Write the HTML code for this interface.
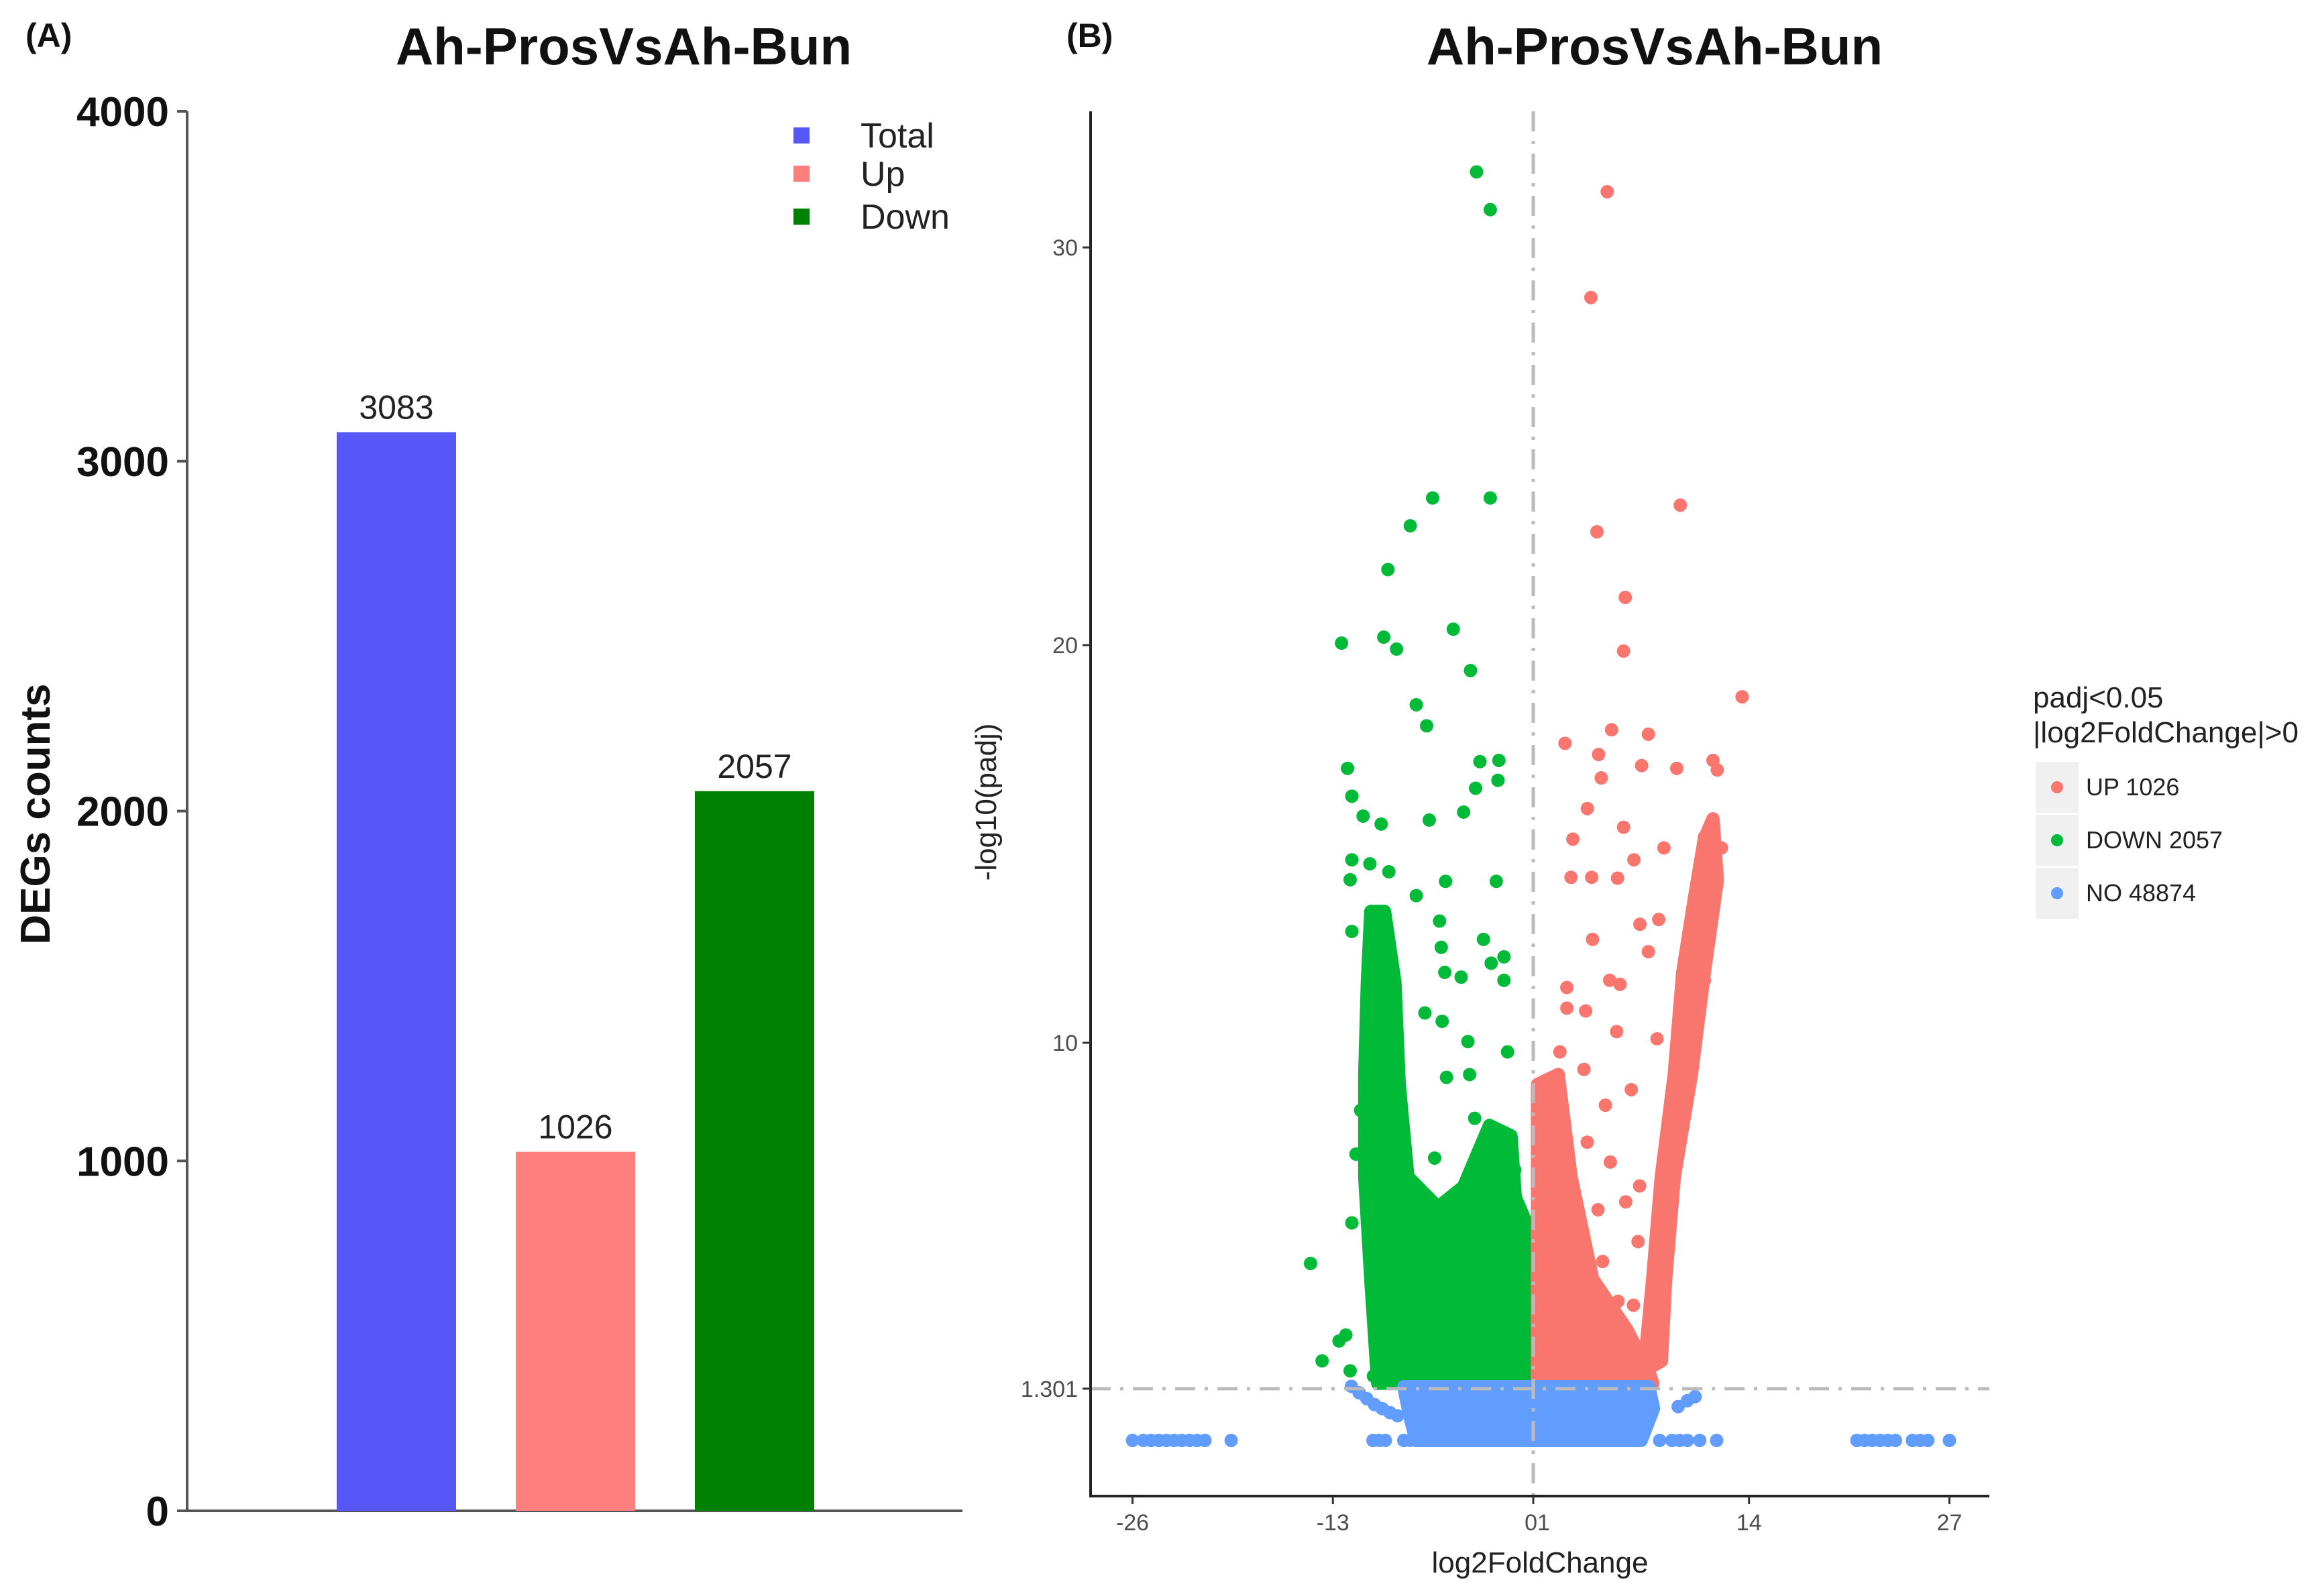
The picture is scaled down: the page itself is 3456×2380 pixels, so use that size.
<!DOCTYPE html>
<html><head><meta charset="utf-8">
<style>
html,body{margin:0;padding:0;background:#fff;}
svg{display:block;font-family:"Liberation Sans",sans-serif;}
</style></head>
<body>
<svg id="fig" width="3456" height="2380" viewBox="0 0 3456 2380" xmlns="http://www.w3.org/2000/svg">
  <rect width="3456" height="2380" fill="#fff"/>
  <g id="panelA">
    <text x="38" y="70" font-size="50" font-weight="bold" fill="#111">(A)</text>
    <text x="930" y="96" font-size="78" font-weight="bold" text-anchor="middle" fill="#111">Ah-ProsVsAh-Bun</text>
    <text transform="translate(74,1214) rotate(-90)" font-size="62" font-weight="bold" text-anchor="middle" fill="#111">DEGs counts</text>
    <g id="aAxes"></g>
    <g id="aBars"></g>
    <g id="aLegend"></g>
  </g>
  <g id="panelB">
    <text x="1590" y="70" font-size="50" font-weight="bold" fill="#111">(B)</text>
    <text x="2467" y="96" font-size="78" font-weight="bold" text-anchor="middle" fill="#111">Ah-ProsVsAh-Bun</text>
    <text transform="translate(1485,1196) rotate(-90)" font-size="44" text-anchor="middle" fill="#222">-log10(padj)</text>
    <text x="2296" y="2345" font-size="44" text-anchor="middle" fill="#222">log2FoldChange</text>
    <g id="bMarks"></g>
    <g id="bAxes"></g>
    <g id="bLegend"></g>
  </g>
</svg>
<script>
// ---------- Panel A data ----------
const barCategories = ["Total", "Up", "Down"];
const barValues = [3083, 1026, 2057];
const barColors = ["#5757F8", "#FF7F7F", "#008000"];
const aTickValues = [0, 1000, 2000, 3000, 4000];

// ---------- Panel B data ----------
const upPointsX = [4.8,3.74,4.13,9.54,5.97,5.86,13.55,2.06,5.08,7.47,4.24,7.03,9.31,11.66,11.94,4.41,3.51,5.86,2.57,6.53,8.48,11.1,12.21,2.45,3.79,5.47,6.92,8.14,3.85,7.47,4.96,5.63,11.1,2.18,3.4,2.18,5.41,8.03,1.73,3.29,6.36,4.68,3,4.5,5.5,6,5,3.5,6.8,2.8,4,5.3,4.2,6.5,2.2,3.2,7.6,6.9,10.8,11.3];
const upPointsY = [31.4,28.74,22.85,23.52,21.2,19.85,18.7,17.53,17.87,17.76,17.25,16.97,16.9,17.1,16.86,16.66,15.89,15.42,15.12,14.6,14.9,15.17,14.9,14.16,14.16,14.14,12.98,13.1,12.6,12.29,11.57,11.47,11.57,11.39,10.8,10.87,10.28,10.1,9.77,9.33,8.82,8.43,5,4.5,3.5,6,7,7.5,5,6,3,2.2,5.8,3.4,2.6,3.2,2.4,6.4,12.4,13.2];
const downPointsX = [-3.68,-2.79,-6.53,-2.79,-7.98,-9.43,-5.19,-12.44,-9.7,-8.87,-4.07,-7.59,-6.92,-3.46,-2.23,-12.05,-2.29,-3.74,-11.77,-11.04,-6.75,-4.52,-9.87,-11.77,-10.6,-9.37,-5.69,-2.4,-11.88,-7.59,-10.49,-6.08,-11.77,-3.23,-5.97,-2.73,-1.9,-5.74,-4.68,-1.9,-7.03,-5.91,-4.24,-1.67,-5.63,-4.13,-14.45,-11.77,-12.16,-12.6,-13.7,-11.88,-10.37,-7,-6,-8,-5,-3,-7.5,-11.5,-11.2,-6.4,-3.8,-1.2];
const downPointsY = [31.9,30.95,23.7,23.7,23.0,21.9,20.4,20.05,20.2,19.9,19.36,18.5,17.97,17.07,17.1,16.9,16.6,16.4,16.2,15.7,15.6,15.8,15.5,14.6,14.5,14.3,14.06,14.06,14.1,13.7,13.3,13.06,12.8,12.6,12.4,12.0,12.16,11.77,11.65,11.57,10.75,10.54,10.03,9.77,9.13,9.2,4.45,5.47,2.65,2.5,2.0,1.75,1.62,3,2.5,4,3.5,4.5,5.5,7.2,8.3,7.1,8.1,6.8];
const noPointsX = [-26,-25.3,-24.8,-24.3,-23.8,-23.3,-22.8,-22.3,-21.8,-21.3,-19.6,21,21.5,22,22.5,23,23.5,24.6,25.1,25.6,27,-10.4,-10,-9.6,-8.4,-8,8.2,9,9.5,10,10.8,11.9,-11.8,-11.3,-10.8,-10.3,-9.8,-9.3,-8.8,9.4,10,10.5];
const noPointsY = [0,0,0,0,0,0,0,0,0,0,0,0,0,0,0,0,0,0,0,0,0,0,0,0,0,0,0,0,0,0,0,0,1.36,1.2,1.05,0.9,0.8,0.7,0.62,0.85,1.0,1.1];
// dense-cloud outlines (data units)
const downCloudX = [-10.09,-10.54,-10.93,-10.93,-10.76,-10.54,-9.65,-8.98,-8.7,-8.14,-6.19,-4.52,-2.84,-1.45,-1.17,-0.33,-0.22];
const downCloudY = [1.44,4.06,6.63,9.2,11.52,13.3,13.3,11.52,8.95,6.63,5.86,6.38,7.92,7.66,6.12,5.35,1.44];
const upCloudX = [0.28,0.28,1.62,2.45,3.85,6.08,7.47,7.75];
const upCloudY = [1.44,8.95,9.2,6.63,4.06,2.78,1.75,1.44];
const upArmX = [7.19,7.75,8.31,9.15,9.7,10.43,11.1,11.66,11.94,11.1,10.26,9.15,8.59,8.31];
const upArmY = [1.75,4.06,6.63,9.2,11.77,13.57,15.12,15.63,14.09,11.77,9.2,6.63,4.06,2.0];
const noCloudX = [-8.4,7.5,7.8,7.0,-7.6,-8.0];
const noCloudY = [1.35,1.35,0.8,0,0,0.6];
const bYTicks = [1.301, 10, 20, 30];
const bYTickLabels = ["1.301", "10", "20", "30"];
const bXTicks = [-26, -13, 0, 14, 27];
const bXTickLabels = ["-26", "-13", "01", "14", "27"];
const threshold = 1.301;
const legendLabels = ["UP 1026", "DOWN 2057", "NO 48874"];

const NS = "http://www.w3.org/2000/svg";
function mk(tag, attrs, parent, txt) {
  const e = document.createElementNS(NS, tag);
  for (const k in attrs) e.setAttribute(k, attrs[k]);
  if (txt !== undefined) e.textContent = txt;
  parent.appendChild(e);
  return e;
}

// ---------- Panel A ----------
const yA = v => 2253 - v * (2087 / 4000);
const xA = i => 591 + i * 267;
const barW = 178;
const aAxes = document.getElementById("aAxes");
let el = mk("line", {x1: 279, y1: 166, x2: 279, y2: 2253, stroke: "#555", "stroke-width": 4}, aAxes);


el = mk("line", {x1: 277, y1: 2253, x2: 1435, y2: 2253, stroke: "#555", "stroke-width": 4}, aAxes);


aTickValues.forEach(v => {
  const t = mk("line", {x1: 264, y1: yA(v), x2: 279, y2: yA(v), stroke: "#555", "stroke-width": 4}, aAxes);
  
  
  const l = mk("text", {x: 252, y: yA(v) + 22, "font-size": 62, "font-weight": "bold", "text-anchor": "end", fill: "#111"}, aAxes, String(v));
  
  
});
const aBars = document.getElementById("aBars");
barValues.forEach((v, i) => {
  const r = mk("rect", {x: xA(i) - barW / 2, y: yA(v), width: barW, height: yA(0) - yA(v), fill: barColors[i]}, aBars);
  
  
  const t = mk("text", {x: xA(i), y: yA(v) - 20, "font-size": 50, "text-anchor": "middle", fill: "#222"}, aBars, String(v));
  
  
});
const aLegend = document.getElementById("aLegend");
barCategories.forEach((c, i) => {
  const y = [202, 259, 323][i];
  const s = mk("rect", {x: 1183, y: y - 12, width: 24, height: 24, fill: barColors[i]}, aLegend);
  
  
  const t = mk("text", {x: 1283, y: y + 18, "font-size": 52, fill: "#222"}, aLegend, c);
  
  
});

// ---------- Panel B ----------
const xB = v => 2286 + v * 22.98;
const yB = v => 2148 - v * 59.3;
const axisX = 1626, axisBottom = 2231, axisRight = 2966;
const colUp = "#F8766D", colDown = "#00BA38", colNo = "#619CFF";
const bMarks = document.getElementById("bMarks");
function cloud(xs, ys, col, name) {
  const pts = xs.map((x, i) => xB(x) + "," + yB(ys[i])).join(" ");
  const p = mk("polygon", {points: pts, fill: col, stroke: col, "stroke-width": 20, "stroke-linejoin": "round"}, bMarks);
  
  
}
function pts(xs, ys, col, name) {
  xs.forEach((x, i) => {
    const c = mk("circle", {cx: xB(x), cy: yB(ys[i]), r: 10, fill: col}, bMarks);
    
    
  });
}
cloud(downCloudX, downCloudY, colDown, "down-dense-cloud");
cloud(upCloudX, upCloudY, colUp, "up-dense-cloud");
cloud(upArmX, upArmY, colUp, "up-dense-arm");
pts(downPointsX, downPointsY, colDown, "down-point");
pts(upPointsX, upPointsY, colUp, "up-point");
cloud(noCloudX, noCloudY, colNo, "no-dense-cloud");
pts(noPointsX, noPointsY, colNo, "no-point");

const bAxes = document.getElementById("bAxes");
el = mk("line", {x1: xB(0), y1: 166, x2: xB(0), y2: axisBottom, stroke: "#bbb", "stroke-width": 5, "stroke-dasharray": "30 14 5 14"}, bAxes);


el = mk("line", {x1: axisX, y1: yB(threshold), x2: axisRight, y2: yB(threshold), stroke: "#bbb", "stroke-width": 5, "stroke-dasharray": "30 14 5 14"}, bAxes);


el = mk("line", {x1: axisX, y1: 166, x2: axisX, y2: axisBottom + 2, stroke: "#222", "stroke-width": 4}, bAxes);


el = mk("line", {x1: axisX - 2, y1: axisBottom, x2: axisRight, y2: axisBottom, stroke: "#222", "stroke-width": 4}, bAxes);


bYTicks.forEach((v, i) => {
  const t = mk("line", {x1: axisX - 12, y1: yB(v), x2: axisX, y2: yB(v), stroke: "#333", "stroke-width": 3}, bAxes);
  
  
  const l = mk("text", {x: axisX - 19, y: yB(v) + 12, "font-size": 34, "text-anchor": "end", fill: "#4d4d4d"}, bAxes, bYTickLabels[i]);
  
  
});
bXTicks.forEach((v, i) => {
  const t = mk("line", {x1: xB(v), y1: axisBottom, x2: xB(v), y2: axisBottom + 12, stroke: "#333", "stroke-width": 3}, bAxes);
  
  
  const l = mk("text", {x: xB(v) + (i === 2 ? 6 : 0), y: axisBottom + 51, "font-size": 34, "text-anchor": "middle", fill: "#4d4d4d"}, bAxes, bXTickLabels[i]);
  
  
});

const bLegend = document.getElementById("bLegend");
el = mk("text", {x: 3031, y: 1055, "font-size": 44, fill: "#222"}, bLegend, "padj<0.05");


el = mk("text", {x: 3031, y: 1107, "font-size": 44, fill: "#222"}, bLegend, "|log2FoldChange|>0");


[colUp, colDown, colNo].forEach((c, i) => {
  const y = 1136 + i * 79;
  const b = mk("rect", {x: 3035, y: y, width: 64, height: 76, fill: "#f0f0f0"}, bLegend);
  
  
  const d = mk("circle", {cx: 3067, cy: y + 38, r: 9, fill: c}, bLegend);
  
  
  const t = mk("text", {x: 3110, y: y + 50, "font-size": 36, fill: "#222"}, bLegend, legendLabels[i]);
  
  
});
</script>
</body></html>
